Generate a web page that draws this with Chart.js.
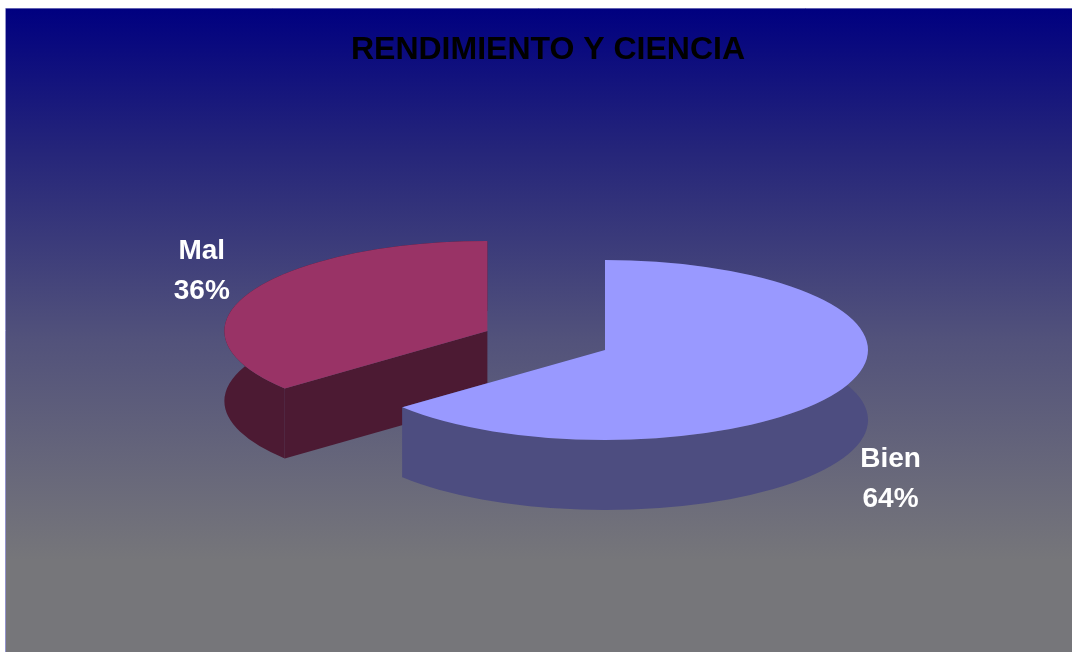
<!DOCTYPE html>
<html>
<head>
<meta charset="utf-8">
<script src="https://cdn.jsdelivr.net/npm/chart.js@4"></script>
<style>
  html, body { margin: 0; padding: 0; background: #fff; }
  canvas { display: block; }
</style>
</head>
<body>
<canvas id="myChart" width="1072" height="652"></canvas>
<script>
var categories = ["Bien", "Mal"];
var values = [64, 36];
var topColors = ["#9999FF", "#993366"];
var sideColors = ["#4D4D80", "#4C1A33"];
var explode = [0, 130];

// 3d look: where the (flat) pie is placed on the page and how it is tilted
var view = { centerX: 605, centerY: 350, tilt: 0.342, depth: 70 };

// centre of a slice on the page, after the explode offset
function sliceCenter(arc) {
  var mid = (arc.startAngle + arc.endAngle) / 2;
  var off = arc.options.offset || 0;
  return {
    x: view.centerX + Math.cos(mid) * off,
    y: view.centerY + Math.sin(mid) * off * view.tilt,
    mid: mid
  };
}

var background = {
  id: "background",
  beforeDraw: function (chart) {
    var ctx = chart.ctx;
    ctx.save();
    ctx.fillStyle = "#fff";
    ctx.fillRect(0, 0, chart.width, chart.height);
    var g = ctx.createLinearGradient(0, 8, 0, 560);
    g.addColorStop(0, "#000080");
    g.addColorStop(0.25, "#24247A");
    g.addColorStop(0.6, "#52527B");
    g.addColorStop(1, "#76767A");
    ctx.fillStyle = g;
    ctx.fillRect(6, 8, chart.width - 6, chart.height - 8);
    ctx.strokeStyle = "rgba(120,120,190,0.8)";
    ctx.lineWidth = 1;
    ctx.beginPath();
    ctx.moveTo(5.5, chart.height);
    ctx.lineTo(5.5, 8.5);
    ctx.lineTo(chart.width, 8.5);
    ctx.stroke();
    ctx.restore();
  }
};

var pie3d = {
  id: "pie3d",
  beforeDatasetsDraw: function (chart) {
    var ctx = chart.ctx;
    var arcs = chart.getDatasetMeta(0).data.slice();
    // the slice farther back is drawn first
    arcs.sort(function (a, b) {
      return sliceCenter(a).y - sliceCenter(b).y;
    });
    arcs.forEach(function (arc) {
      var c = sliceCenter(arc);
      var R = arc.outerRadius;
      var ry = R * view.tilt;
      var a1 = arc.startAngle, a2 = arc.endAngle;
      var h = view.depth;
      var i = arc.$context.dataIndex;
      ctx.save();
      ctx.fillStyle = sideColors[i];
      // cut faces
      [a1, a2].forEach(function (a) {
        var px = c.x + Math.cos(a) * R, py = c.y + Math.sin(a) * ry;
        ctx.beginPath();
        ctx.moveTo(c.x, c.y);
        ctx.lineTo(px, py);
        ctx.lineTo(px, py + h);
        ctx.lineTo(c.x, c.y + h);
        ctx.closePath();
        ctx.fill();
      });
      // outer wall
      ctx.beginPath();
      ctx.ellipse(c.x, c.y, R, ry, 0, a1, a2);
      ctx.ellipse(c.x, c.y + h, R, ry, 0, a2, a1, true);
      ctx.closePath();
      ctx.fill();
      // top face
      ctx.fillStyle = arc.options.backgroundColor;
      ctx.beginPath();
      ctx.moveTo(c.x, c.y);
      ctx.ellipse(c.x, c.y, R, ry, 0, a1, a2);
      ctx.closePath();
      ctx.fill();
      ctx.restore();
    });
    return false;
  },
  afterDraw: function (chart) {
    var ctx = chart.ctx;
    var arcs = chart.getDatasetMeta(0).data;
    var total = values.reduce(function (a, b) { return a + b; }, 0);
    ctx.save();
    ctx.fillStyle = "#fff";
    ctx.font = "bold 28px 'Liberation Sans', Arial, sans-serif";
    ctx.textAlign = "center";
    ctx.textBaseline = "middle";
    arcs.forEach(function (arc, i) {
      var c = sliceCenter(arc);
      var r = arc.outerRadius;
      var lx = c.x + Math.cos(c.mid) * r * 1.2;
      var ly = c.y + Math.sin(c.mid) * r * view.tilt * 1.55 + (Math.sin(c.mid) > 0 ? view.depth : 0);
      var pct = Math.round(values[i] / total * 100) + "%";
      ctx.fillText(categories[i], lx, ly - 20);
      ctx.fillText(pct, lx, ly + 20);
    });
    ctx.restore();
  }
};

new Chart("myChart", {
  type: "pie",
  data: {
    labels: categories,
    datasets: [
      {
        data: values,
        backgroundColor: topColors,
        borderWidth: 0,
        offset: explode,
        hoverOffset: 0,
        radius: 263,
      },
    ],
  },
  options: {
    responsive: false,
    animation: false,
    events: [],
    layout: { padding: { left: 24, top: 0, right: 0, bottom: 28 } },
    plugins: {
      legend: { display: false },
      tooltip: { enabled: false },
      title: {
        display: true,
        text: "RENDIMIENTO Y CIENCIA",
        color: "#000",
        font: { family: "'Liberation Sans', Arial, sans-serif", size: 32, weight: "bold" },
        padding: { top: 31, bottom: 8 },
      },
    },
  },
  plugins: [background, pie3d],
});
</script>
</body>
</html>
